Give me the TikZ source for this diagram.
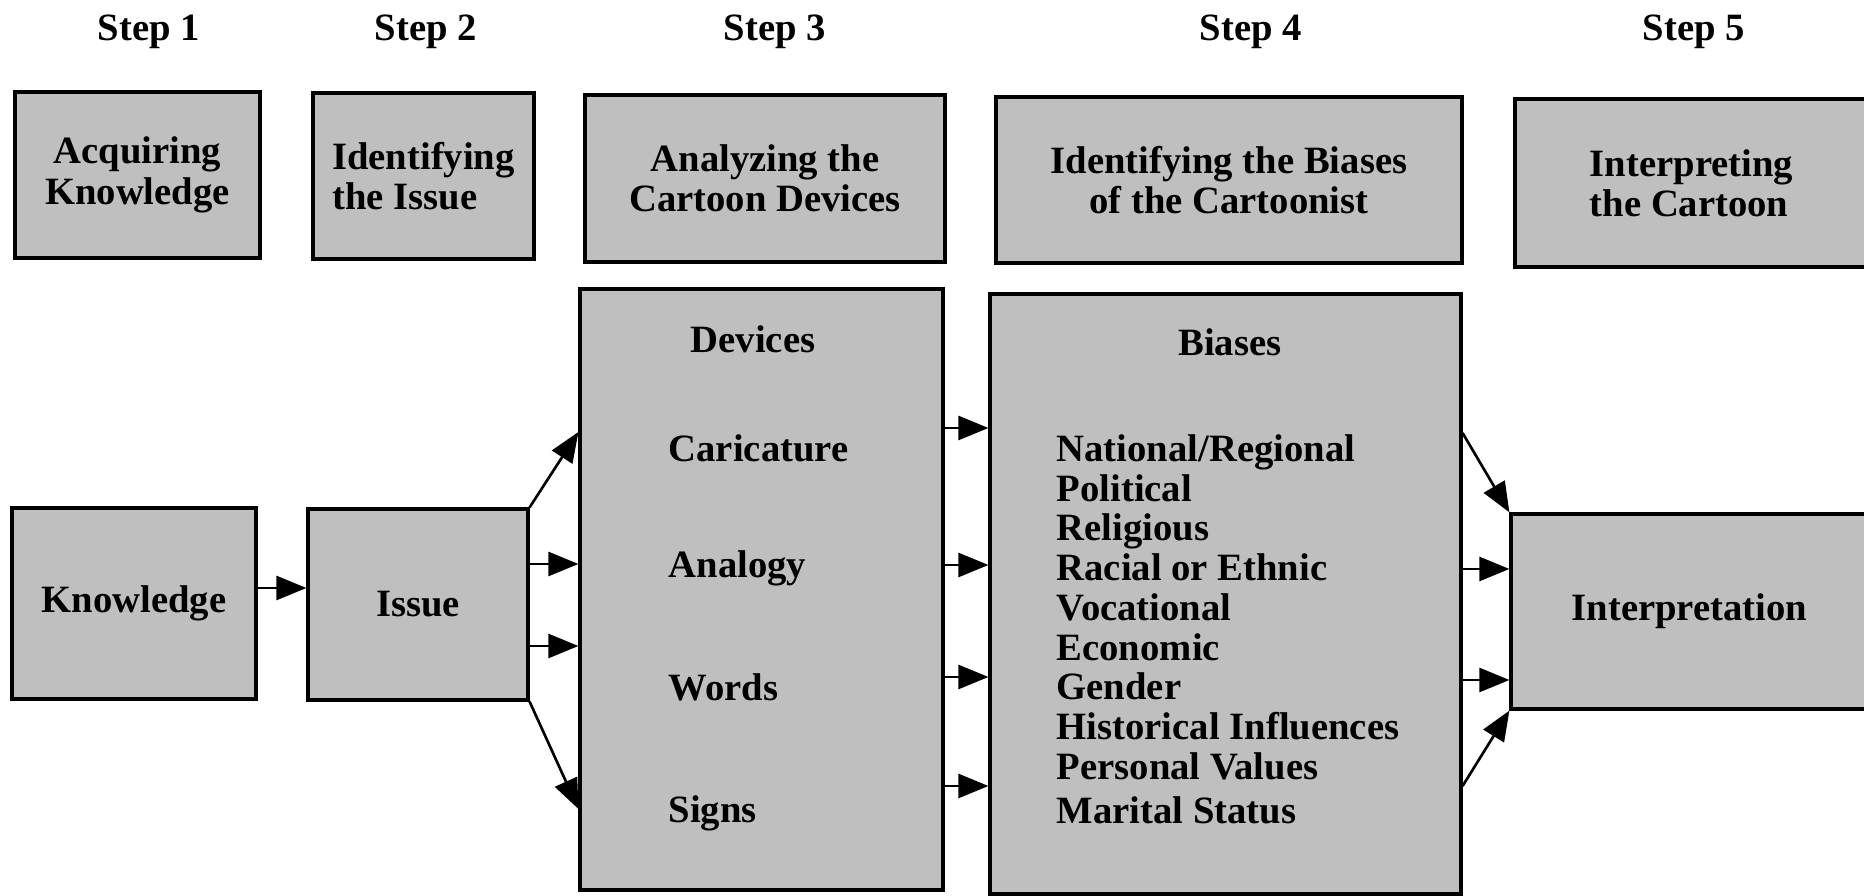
\documentclass[tikz,border=0pt]{standalone}
\usepackage{fontspec}
\setmainfont{Liberation Serif}
\usetikzlibrary{arrows.meta}
\tikzset{
  lbl/.style={font=\bfseries\fontsize{11}{11.5}\selectfont},
  box/.style={lbl,draw,line width=0.9pt,fill=black!25,align=center},
  arr/.style={-{Triangle[length=0.3cm,width=0.24cm]},line width=0.75pt}
}
\begin{document}
\begin{tikzpicture}
\useasboundingbox (0,0) rectangle (18.64,-8.96);
\node[lbl](s1) at (1.49,-0.32) {Step 1};
\node[lbl](s2) at (4.26,-0.32) {Step 2};
\node[lbl](s3) at (7.75,-0.32) {Step 3};
\node[lbl](s4) at (12.51,-0.32) {Step 4};
\node[lbl](s5) at (16.94,-0.32) {Step 5};
\node[box,minimum width=2.45cm,minimum height=1.66cm](acq) at (1.375,-1.75) {Acquiring\\Knowledge};
\node[box,minimum width=2.21cm,minimum height=1.66cm,align=left](idi) at (4.235,-1.76) {Identifying\\the Issue};
\node[box,minimum width=3.6cm,minimum height=1.67cm](ana) at (7.65,-1.785) {Analyzing the\\Cartoon Devices};
\node[box,minimum width=4.66cm,minimum height=1.66cm](ibc) at (12.29,-1.8) {Identifying the Biases\\of the Cartoonist};
\node[box,minimum width=3.53cm,minimum height=1.68cm,align=left](itc) at (16.915,-1.83) {Interpreting\\the Cartoon};
\node[box,minimum width=2.44cm,minimum height=1.91cm](know) at (1.34,-6.035) {Knowledge};
\node[box,minimum width=2.2cm,minimum height=1.91cm](issue) at (4.18,-6.045) {Issue};
\node[box,minimum width=3.63cm,minimum height=6.01cm](dev) at (7.615,-5.895) {};
\node[box,minimum width=4.71cm,minimum height=6cm](bias) at (12.255,-5.94) {};
\node[box,minimum width=3.57cm,minimum height=1.95cm](interp) at (16.895,-6.115) {Interpretation};
\node[lbl](devh) at (7.53,-3.39) {Devices};
\foreach \t/\y [count=\i] in {Caricature/4.48,Analogy/5.68,Words/6.87,Signs/8.13}
  \node[lbl,anchor=west,inner sep=0pt](dev\i) at (6.68,-\y) {\t};
\node[lbl](biash) at (12.3,-3.42) {Biases};
\node[lbl,font=\bfseries\fontsize{11}{11.3}\selectfont,anchor=north west,align=left,inner sep=0pt](blist) at (10.56,-4.34) {National/Regional\\Political\\Religious\\Racial or Ethnic\\Vocational\\Economic\\Gender\\Historical Influences\\Personal Values\\[1.4pt]Marital Status};
\draw[arr](know.east |- 0,-5.88)--(issue.west |- 0,-5.88);
\draw[arr](issue.north east)--(dev.west |- 0,-4.32);
\draw[arr](issue.east |- 0,-5.64)--(dev.west |- 0,-5.64);
\draw[arr](issue.east |- 0,-6.46)--(dev.west |- 0,-6.46);
\draw[arr](issue.south east)--(dev.west |- 0,-8.09);
\foreach \y in {4.28,5.65,6.77,7.86}
  \draw[arr](dev.east |- 0,-\y)--(bias.west |- 0,-\y);
\draw[arr](bias.east |- 0,-4.33)--(interp.north west);
\draw[arr](bias.east |- 0,-5.69)--(interp.west |- 0,-5.69);
\draw[arr](bias.east |- 0,-6.8)--(interp.west |- 0,-6.8);
\draw[arr](bias.east |- 0,-7.86)--(interp.south west);
\end{tikzpicture}
\end{document}
